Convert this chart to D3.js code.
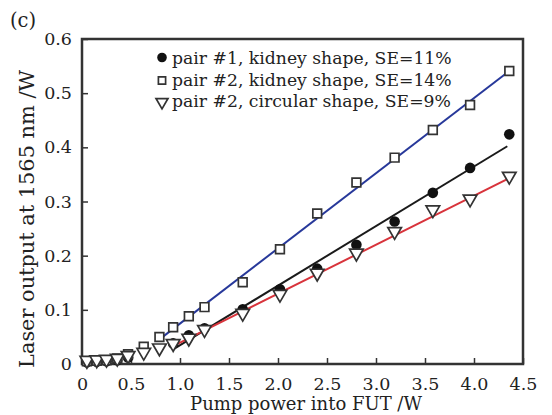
<!DOCTYPE html>
<html><head><meta charset="utf-8">
<script src="https://cdn.jsdelivr.net/npm/d3@7"></script>
<style>body{margin:0;background:#fff}svg{display:block}text{font-family:"DejaVu Serif",serif;fill:#222}</style>
</head><body><svg id="c" width="552" height="415"></svg>
<script>
const pump = [0.05,0.15,0.25,0.36,0.47,0.63,0.79,0.93,1.09,1.25,1.64,2.02,2.40,2.80,3.19,3.58,3.96,4.36];
const pair1Kidney = [0.003,0.004,0.005,0.007,0.012,null,null,0.038,0.053,0.066,0.101,0.138,0.176,0.220,0.263,0.316,0.362,0.424];
const pair2Kidney = [0.005,0.006,0.007,0.010,0.018,0.032,0.050,0.068,0.088,0.105,0.151,0.212,0.278,0.335,0.381,0.432,0.478,0.541];
const pair2Circular = [0.003,0.004,0.005,0.007,0.012,0.018,0.026,0.034,0.044,0.060,0.090,0.125,0.164,0.201,0.241,0.281,0.301,0.343];
const legendLabels = ["pair #1, kidney shape, SE=11%","pair #2, kidney shape, SE=14%","pair #2, circular shape, SE=9%"];
// linear fits: [x start, y start, x end, y end]
const fitPair1Kidney = [0.93,0.027,4.34,0.402];
const fitPair2Kidney = [0.79,0.0455,4.36,0.541];
const fitPair2Circular = [0.95,0.035,4.36,0.343];
const xTicks = [0,0.5,1.0,1.5,2.0,2.5,3.0,3.5,4.0,4.5];
const yTicks = [0,0.1,0.2,0.3,0.4,0.5,0.6];
const xTitle = "Pump power into FUT /W";
const yTitle = "Laser output at 1565 nm /W";
const panelLabel = "(c)";

const svg = d3.select("#c");
const L=82,R=523,T=39,B=364;
const x = d3.scaleLinear().domain([0,4.5]).range([L,R]);
const y = d3.scaleLinear().domain([0,0.6]).range([B,T]);
const fmt = v => v===0 ? "0" : v.toFixed(1);

function fitText(sel, target){
  const w = sel.node().getComputedTextLength();
  const fs = parseFloat(sel.attr("font-size"));
  sel.attr("font-size", fs*target/w);
}

const gx = svg.append("g").attr("transform",`translate(0,${B})`)
  .call(d3.axisBottom(x).tickValues(xTicks).tickFormat(fmt).tickSizeInner(-6).tickSizeOuter(0).tickPadding(14));
const gy = svg.append("g").attr("transform",`translate(${L},0)`)
  .call(d3.axisLeft(y).tickValues(yTicks).tickFormat(fmt).tickSizeInner(-6).tickSizeOuter(0).tickPadding(10));
[gx,gy].forEach(g=>{
  g.select(".domain").remove();
  g.selectAll(".tick line").attr("stroke","#333").attr("stroke-width",1.5);
  g.selectAll(".tick text").attr("font-size",17.5).attr("fill","#222").style("font-family","DejaVu Serif");
});
svg.append("rect").attr("x",L).attr("y",T).attr("width",R-L).attr("height",B-T)
  .attr("fill","none").attr("stroke","#333").attr("stroke-width",2.5);

const fits=[[fitPair1Kidney,"#1a1a1a"],[fitPair2Kidney,"#27389a"],[fitPair2Circular,"#d8343c"]];
fits.forEach(([f,c])=>{
  svg.append("line").attr("x1",x(f[0])).attr("y1",y(f[1])).attr("x2",x(f[2])).attr("y2",y(f[3]))
    .attr("stroke",c).attr("stroke-width",2);
});

const sq=d3.symbol().type(d3.symbolSquare).size(76);
const tri=d3.symbol().type(d3.symbolTriangle).size(80);
function markers(vals,kind){
  const d=pump.map((p,i)=>({p,v:vals[i]})).filter(e=>e.v!=null);
  const g=svg.append("g");
  if(kind==="c"){
    g.selectAll("circle").data(d).join("circle").attr("cx",e=>x(e.p)).attr("cy",e=>y(e.v)).attr("r",5.3).attr("fill","#111");
  } else if(kind==="s"){
    g.selectAll("path").data(d).join("path").attr("d",sq).attr("transform",e=>`translate(${x(e.p)},${y(e.v)})`)
      .attr("fill","#fff").attr("stroke","#333").attr("stroke-width",1.7);
  } else {
    g.selectAll("path").data(d).join("path").attr("d",tri).attr("transform",e=>`translate(${x(e.p)},${y(e.v)-2}) rotate(180)`)
      .attr("fill","#fff").attr("stroke","#333").attr("stroke-width",1.7);
  }
}
markers(pair1Kidney,"c");
markers(pair2Kidney,"s");
markers(pair2Circular,"t");

const ly=[57.5,79.5,101];
const lg=svg.append("g");
lg.append("circle").attr("cx",162).attr("cy",ly[0]).attr("r",4.8).attr("fill","#111");
lg.append("path").attr("d",d3.symbol().type(d3.symbolSquare).size(52)).attr("transform",`translate(162,${ly[1]+1})`).attr("fill","#fff").attr("stroke","#333").attr("stroke-width",1.7);
lg.append("path").attr("d",d3.symbol().type(d3.symbolTriangle).size(62)).attr("transform",`translate(162,${ly[2]+1}) rotate(180)`).attr("fill","#fff").attr("stroke","#333").attr("stroke-width",1.7);
legendLabels.forEach((t,i)=>{
  const tx=lg.append("text").attr("x",172).attr("y",ly[i]+6).attr("font-size",16.5).text(t);
  if(i===0) fitText(tx,280);
});
const fsL = lg.select("text").attr("font-size");
lg.selectAll("text").attr("font-size",fsL);

const xt=svg.append("text").attr("x",306).attr("y",410).attr("text-anchor","middle").attr("font-size",17).text(xTitle);
fitText(xt,232);
const yt=svg.append("text").attr("transform",`translate(34,219) rotate(-90)`).attr("text-anchor","middle").attr("font-size",17).text(yTitle);
fitText(yt,298);
svg.append("text").attr("x",10).attr("y",27).attr("font-size",19.5).text(panelLabel);
</script></body></html>
